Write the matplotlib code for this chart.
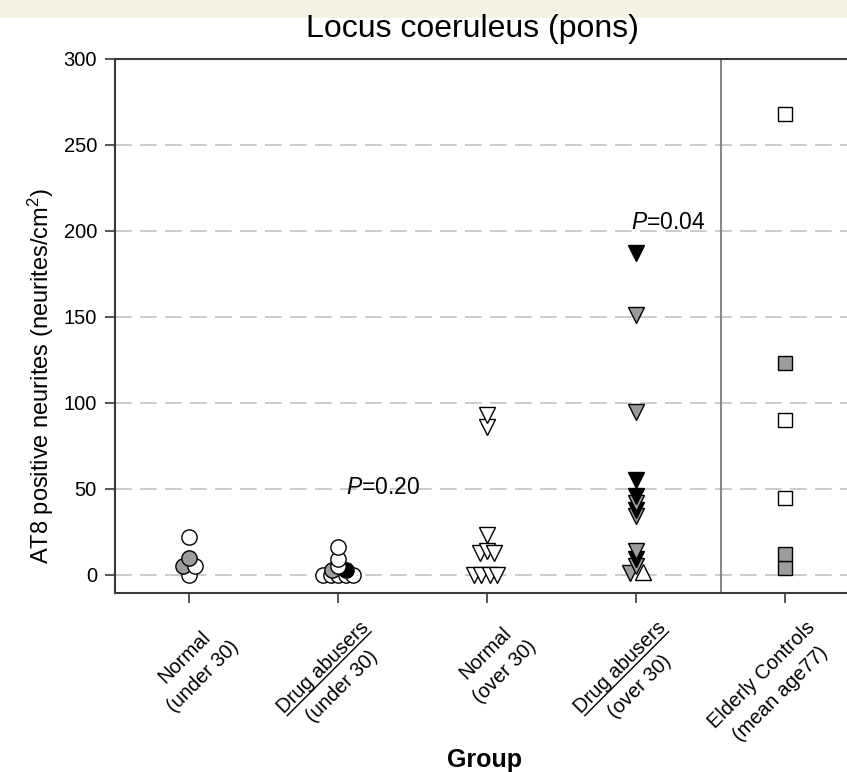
import numpy as np
import matplotlib
matplotlib.use("Agg")
import matplotlib.pyplot as plt
from matplotlib.transforms import Affine2D, ScaledTranslation
from matplotlib.textpath import TextPath
from matplotlib.font_manager import FontProperties
from matplotlib.patches import Rectangle

plt.rcParams['font.family'] = ['Liberation Sans', 'DejaVu Sans']
plt.rcParams['mathtext.fontset'] = 'custom'
plt.rcParams['mathtext.rm'] = 'Liberation Sans'
plt.rcParams['mathtext.it'] = 'Liberation Sans:italic'

# groups and labels
group_line1 = ['Normal', 'Drug abusers', 'Normal', 'Drug abusers', 'Elderly Controls']
group_line2 = ['(under 30)', '(under 30)', '(over 30)', '(over 30)', '(mean age77)']
underlined = [False, True, False, True, False]

# values (neurites/cm2), fill kind and jitter per point
g1_vals = [0, 5, 5, 10, 22]
g1_kind = ['open', 'grey', 'open', 'grey', 'open']
g1_jit = [0.0, -0.04, 0.04, 0.0, 0.0]

g2_vals = [0, 0, 0, 0, 0, 3, 3, 5, 9, 16]
g2_kind = ['open', 'open', 'open', 'open', 'open', 'grey', 'black', 'open', 'open', 'open']
g2_jit = [-0.1, -0.05, 0.0, 0.05, 0.1, -0.04, 0.05, 0.0, 0.0, 0.0]

g3_vals = [0, 0, 0, 0, 13, 14, 13, 23, 86, 93]
g3_jit = [-0.09, -0.04, 0.02, 0.07, -0.05, 0.0, 0.05, 0.0, 0.0, 0.0]

g4_vals = [1, 5, 9, 14, 34, 38, 42, 46, 55, 95, 151, 187]
g4_kind = ['grey', 'grey', 'black', 'grey', 'grey', 'black', 'grey', 'black', 'black', 'grey', 'grey', 'black']
g4_jit = [-0.04, 0.0, 0.0, 0.0, 0.0, 0.0, 0.0, 0.0, 0.0, 0.0, 0.0, 0.0]
g4_up_vals = [2]
g4_up_jit = [0.05]

g5_vals = [4, 12, 45, 90, 123, 268]
g5_kind = ['grey', 'grey', 'open', 'open', 'grey', 'open']

fills = {'open': 'white', 'grey': '#9c9c9c', 'black': 'black'}

fig = plt.figure(figsize=(8.47, 7.72), dpi=100)
fig.patches.append(Rectangle((0, 1 - 18 / 772), 1, 18 / 772, transform=fig.transFigure,
                             facecolor='#f6f2e3', edgecolor='none', zorder=-5))
ax = fig.add_axes([115 / 847, 1 - 593 / 772, 1 - 115 / 847, (593 - 59) / 772])

ax.set_xlim(0.5, 5.42)
ax.set_ylim(-10.5, 300)

for yv in [0, 50, 100, 150, 200, 250]:
    ax.axhline(yv, color='#c4c4c4', lw=1.2, ls=(0, (10, 5)), zorder=0)
ax.axvline(4.57, color='#7a7a7a', lw=1.3, zorder=1)


def draw(xc, vals, kinds, jit, marker, ms):
    for v, k, j in zip(vals, kinds, jit):
        ax.plot(xc + j, v, marker=marker, ms=ms, mfc=fills[k], mec='black',
                mew=1.0, ls='none', zorder=3, clip_on=False)


draw(1, g1_vals, g1_kind, g1_jit, 'o', 11)
draw(2, g2_vals, g2_kind, g2_jit, 'o', 11)
draw(3, g3_vals, ['open'] * len(g3_vals), g3_jit, 'v', 11.5)
draw(4, g4_vals, g4_kind, g4_jit, 'v', 11.5)
draw(4, g4_up_vals, ['open'], g4_up_jit, '^', 11.5)
draw(5, g5_vals, g5_kind, [0.0] * len(g5_vals), 's', 9.5)

ax.text(2.05, 51, r'$P$' + '=0.20', fontsize=16.5, va='center', ha='left')
ax.text(3.97, 205, r'$P$' + '=0.04', fontsize=16.5, va='center', ha='left')

# axes styling
for s in ['left', 'bottom', 'top']:
    ax.spines[s].set_color('#3a3a3a')
    ax.spines[s].set_linewidth(1.5)
ax.spines['right'].set_visible(False)
ax.set_yticks([0, 50, 100, 150, 200, 250, 300])
ax.set_xticks([1, 2, 3, 4, 5])
ax.set_xticklabels([])
ax.tick_params(axis='both', direction='out', length=7, width=1.2, color='#3a3a3a',
               labelsize=14.5, pad=6)
ax.set_ylabel('AT8 positive neurites (neurites/cm$^2$)', fontsize=17)
ax.yaxis.set_label_coords(-0.08, 0.406)
fig.text(472 / 847, 1 - 29 / 772, 'Locus coeruleus (pons)', fontsize=23,
         ha='center', va='center')
fig.text(485 / 847, 1 - 760 / 772, 'Group', fontsize=18, fontweight='bold',
         ha='center', va='center')

# rotated two-line group labels, second line under the first, centred
fs = 14.5
fp = FontProperties(family='Liberation Sans')
k = 0.70710678 * fig.dpi / 72
local = Affine2D(np.array([[k, k, 0], [k, -k, 0], [0, 0, 1]]))
for i, (l1, l2) in enumerate(zip(group_line1, group_line2)):
    w1 = TextPath((0, 0), l1, size=fs, prop=fp).get_extents().width
    w2 = TextPath((0, 0), l2, size=fs, prop=fp).get_extents().width
    ac = -3 - max(w1, w2) / 2
    tr = local + ScaledTranslation(i + 1, 0, ax.get_xaxis_transform())
    ax.text(ac, 34, l1, transform=tr, rotation=45, rotation_mode='anchor',
            ha='center', va='baseline', fontsize=fs, clip_on=False)
    ax.text(ac, 53.5, l2, transform=tr, rotation=45, rotation_mode='anchor',
            ha='center', va='baseline', fontsize=fs, clip_on=False)
    if underlined[i]:
        ax.plot([ac - w1 / 2, ac + w1 / 2], [36.5, 36.5], transform=tr, color='black',
                lw=1.0, clip_on=False)

fig.savefig('out.png', dpi=100)
